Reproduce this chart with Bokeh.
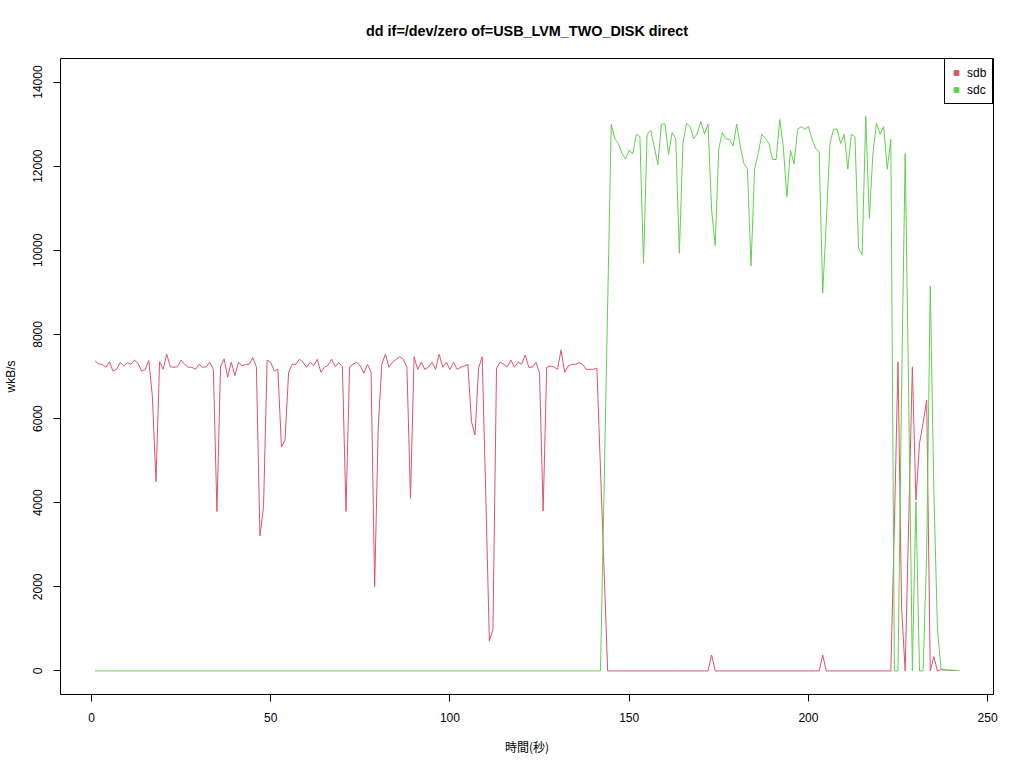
from bokeh.plotting import figure
from bokeh.models import Range1d, FixedTicker, Legend, LegendItem
from bokeh.embed import file_html
from bokeh.resources import INLINE

# ---- data ----
time_sec = list(range(1, 243))

sdb = [
    7370, 7300, 7290, 7220, 7350, 7130, 7170, 7330, 7250, 7330,
    7290, 7390, 7310, 7130, 7170, 7380, 6520, 4500, 7350, 7170,
    7530, 7230, 7220, 7230, 7390, 7290, 7220, 7220, 7170, 7290,
    7220, 7230, 7340, 7170, 3790, 7230, 7420, 6980, 7340, 7020,
    7340, 7250, 7290, 7290, 7450, 7230, 3210, 3910, 7390, 7340,
    7130, 7170, 5320, 5490, 7100, 7290, 7290, 7410, 7340, 7220,
    7340, 7260, 7410, 7100, 7220, 7270, 7410, 7230, 7330, 7230,
    3790, 7230, 7290, 7340, 7250, 7080, 7290, 7100, 2000, 5800,
    7290, 7530, 7220, 7340, 7410, 7470, 7410, 7220, 4100, 7470,
    7170, 7340, 7170, 7220, 7340, 7170, 7530, 7220, 7340, 7170,
    7340, 7170, 7220, 7250, 7290, 5930, 5610, 7200, 7470, 4200,
    710, 990, 7200, 7340, 7290, 7230, 7390, 7220, 7340, 7290,
    7510, 7220, 7220, 7340, 7080, 3800, 7220, 7250, 7230, 7170,
    7630, 7100, 7250, 7290, 7290, 7330, 7290, 7170, 7170, 7170,
    7200, 4800, 2400, 0, 0, 0, 0, 0, 0, 0,
    0, 0, 0, 0, 0, 0, 0, 0, 0, 0,
    0, 0, 0, 0, 0, 0, 0, 0, 0, 0,
    0, 0, 380, 0, 0, 0, 0, 0, 0, 0,
    0, 0, 0, 0, 0, 0, 0, 0, 0, 0,
    0, 0, 0, 0, 0, 0, 0, 0, 0, 0,
    0, 0, 0, 380, 0, 0, 0, 0, 0, 0,
    0, 0, 0, 0, 0, 0, 0, 0, 0, 0,
    0, 0, 0, 3500, 7350, 1500, 0, 3600, 7230, 4060,
    5410, 5900, 6440, 0, 340, 0, 30, 20, 20, 10,
    10, 10,
]

sdc = [
    0, 0, 0, 0, 0, 0, 0, 0, 0, 0,
    0, 0, 0, 0, 0, 0, 0, 0, 0, 0,
    0, 0, 0, 0, 0, 0, 0, 0, 0, 0,
    0, 0, 0, 0, 0, 0, 0, 0, 0, 0,
    0, 0, 0, 0, 0, 0, 0, 0, 0, 0,
    0, 0, 0, 0, 0, 0, 0, 0, 0, 0,
    0, 0, 0, 0, 0, 0, 0, 0, 0, 0,
    0, 0, 0, 0, 0, 0, 0, 0, 0, 0,
    0, 0, 0, 0, 0, 0, 0, 0, 0, 0,
    0, 0, 0, 0, 0, 0, 0, 0, 0, 0,
    0, 0, 0, 0, 0, 0, 0, 0, 0, 0,
    0, 0, 0, 0, 0, 0, 0, 0, 0, 0,
    0, 0, 0, 0, 0, 0, 0, 0, 0, 0,
    0, 0, 0, 0, 0, 0, 0, 0, 0, 0,
    0, 0, 4300, 8700, 13000, 12650, 12540, 12300, 12170, 12380,
    12290, 12760, 12700, 9690, 12760, 12860, 12460, 12040, 13000, 13000,
    12280, 12800, 12650, 9930, 12540, 13020, 12940, 12650, 12780, 13060,
    12770, 13000, 10960, 10110, 12420, 12800, 12650, 12640, 12480, 13000,
    12460, 12070, 11930, 9630, 11930, 12300, 12760, 12660, 12540, 12160,
    12160, 13110, 12460, 11270, 12380, 12050, 12880, 12940, 12880, 12940,
    12650, 12420, 12350, 8980, 10700, 12520, 12880, 12880, 12540, 12760,
    11930, 12760, 12700, 10050, 9890, 13190, 10760, 12300, 13020, 12760,
    12940, 11930, 12640, 0, 0, 6700, 12300, 6400, 0, 4020,
    0, 0, 2800, 9150, 4300, 1000, 50, 30, 20, 20,
    10, 10,
]

series_names = ["sdb", "sdc"]
series_colors = ["#DF536B", "#61D04F"]
y_ticks = [0, 2000, 4000, 6000, 8000, 10000, 12000, 14000]
x_ticks = [0, 50, 100, 150, 200, 250]

FONT = "Liberation Sans"

p = figure(
    width=1015, height=760,
    output_backend="svg", toolbar_location=None,
    x_range=Range1d(-8.64, 251.64), y_range=Range1d(-560, 14560),
    min_border_left=56, min_border_right=22, min_border_top=58, min_border_bottom=66,
    title="dd if=/dev/zero of=USB_LVM_TWO_DISK direct",
)

p.title.align = "center"
p.title.text_font = FONT
p.title.text_font_size = "14.4px"
p.title.text_font_style = "bold"
p.title.text_color = "black"
p.title.standoff = 40

p.background_fill_color = "white"
p.border_fill_color = "white"
p.outline_line_color = "black"
p.outline_line_width = 1
p.xgrid.visible = False
p.ygrid.visible = False

for ax in (p.xaxis[0], p.yaxis[0]):
    ax.axis_line_color = None
    ax.major_tick_out = 7
    ax.major_tick_in = 0
    ax.minor_tick_out = 0
    ax.minor_tick_in = 0
    ax.major_tick_line_color = "black"
    ax.major_label_text_font = FONT
    ax.major_label_text_font_size = "12px"
    ax.major_label_text_color = "black"
    ax.axis_label_text_font_size = "12px"
    ax.axis_label_text_font_style = "normal"
    ax.axis_label_text_color = "black"

p.xaxis[0].ticker = FixedTicker(ticks=x_ticks)
p.yaxis[0].ticker = FixedTicker(ticks=y_ticks)
p.xaxis[0].major_label_standoff = 11
p.yaxis[0].major_label_standoff = 11
p.yaxis[0].major_label_orientation = "parallel"

p.xaxis[0].axis_label = "時間(秒)"
p.xaxis[0].axis_label_text_font = "Noto Sans CJK JP"
p.xaxis[0].axis_label_standoff = 13
p.yaxis[0].axis_label = "wkB/s"
p.yaxis[0].axis_label_text_font = FONT
p.yaxis[0].axis_label_standoff = 13

series = [sdb, sdc]
items = []
for name, color, vals in zip(series_names, series_colors, series):
    p.line(time_sec, vals, line_color=color, line_width=1)
    # off-range point: only its legend swatch is seen
    sq = p.scatter([-1000], [-100000], marker="square", size=6, color=color)
    items.append(LegendItem(label=name, renderers=[sq]))

legend = Legend(items=items, location="top_right")
legend.margin = 0
legend.padding = 5
legend.spacing = 0
legend.glyph_width = 12
legend.glyph_height = 17
legend.label_height = 17
legend.label_standoff = 5
legend.label_text_font = FONT
legend.label_text_font_size = "12px"
legend.label_text_color = "black"
legend.border_line_color = "black"
legend.border_line_width = 1
legend.border_line_alpha = 1
legend.background_fill_alpha = 1
p.add_layout(legend, "center")

open("out.html", "w").write(file_html(p, INLINE))
